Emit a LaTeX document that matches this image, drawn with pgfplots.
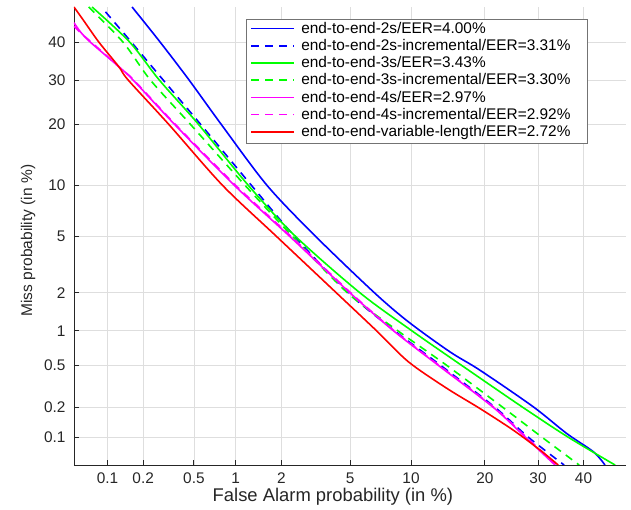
\documentclass[border=0pt]{standalone}
\usepackage{pgfplots}
\pgfplotsset{compat=1.18}
\usepackage{fontspec}
\setmainfont{Liberation Sans}
\definecolor{gridc}{RGB}{222,222,222}
\definecolor{axc}{RGB}{38,38,38}
\definecolor{mblue}{RGB}{0,0,255}
\definecolor{mgreen}{RGB}{0,255,0}
\definecolor{mmag}{RGB}{255,0,255}
\definecolor{mred}{RGB}{255,0,0}
\newcommand{\lsolid}[1]{\textcolor{#1}{\rule[4pt]{43pt}{1.6pt}}}
\newcommand{\ldash}[1]{\textcolor{#1}{\rule[4pt]{8pt}{1.6pt}\hspace{6pt}\rule[4pt]{8pt}{1.6pt}\hspace{6pt}\rule[4pt]{8pt}{1.6pt}\hspace{6pt}\rule[4pt]{1pt}{1.6pt}}}
\begin{document}
\begin{tikzpicture}
\begin{axis}[
  scale only axis, width=552pt, height=458pt,
  declare function={
    pdt(\q)=sqrt(-2*ln(\q));
    pdz(\q)=pdt(\q)-(2.515517+0.802853*pdt(\q)+0.010328*pdt(\q)^2)/(1+1.432788*pdt(\q)+0.189269*pdt(\q)^2+0.001308*pdt(\q)^3);
    probit(\p)=(\p<50)*(-pdz(\p/100))+(\p>=50)*pdz(1-\p/100);
  },
  xmin=-3.2905, xmax=0, ymin=-3.2905, ymax=0,
  axis x line*=bottom, axis y line*=left,
  axis line style={axc, line width=0.8pt},
  xtick={-3.0902,-2.8782,-2.5758,-2.3263,-2.0537,-1.6449,-1.2816,-0.8416,-0.5244,-0.2533},
  xticklabels={0.1,0.2,0.5,1,2,5,10,20,30,40},
  ytick={-3.0902,-2.8782,-2.5758,-2.3263,-2.0537,-1.6449,-1.2816,-0.8416,-0.5244,-0.2533},
  yticklabels={0.1,0.2,0.5,1,2,5,10,20,30,40},
  grid=major, major grid style={gridc, line width=0.7pt},
  tick align=inside, major tick length=5pt, tick style={axc, line width=0.8pt},
  /pgf/number format/assume math mode=true,
  xticklabel style={font=\fontsize{15.4}{17}\selectfont, text=axc, yshift=-4pt},
  yticklabel style={font=\fontsize{15.4}{17}\selectfont, text=axc, xshift=-5pt},
  xlabel={False Alarm probability (in \%)},
  ylabel={Miss probability (in \%)},
  xlabel style={at={(axis description cs:0.469,-0.07)}, anchor=center, font=\fontsize{18.4}{20}\selectfont, text=axc},
  ylabel style={at={(axis description cs:-0.083,0.49)}, anchor=center, font=\fontsize{15.5}{18}\selectfont, text=axc},
  every axis plot post/.append style={line width=1.6pt},
]
% end-to-end-2s
\addplot[mblue, solid, smooth, tension=0.5] table[x expr={probit(\thisrow{fa})}, y expr={probit(\thisrow{miss})}] {
fa miss
0.162 50
0.275 40
0.46 30
0.79 20
1.62 10
3.2 5
6.7 2
9.74 1.185
14.7 0.662
19.2 0.454
29 0.204
36.2 0.109
42.3 0.0697
45 0.05
};
% end-to-end-2s-incremental
\addplot[mblue, dash pattern=on 8pt off 6pt, smooth, tension=0.5] table[x expr={probit(\thisrow{fa})}, y expr={probit(\thisrow{miss})}] {
fa miss
0.096 48.6
0.16 40
0.29 30
0.56 20
1.28 10
2.4 5
4.9 2
8.4 1
13.5 0.5
21.8 0.2
28 0.1
35.6 0.05
};
% end-to-end-3s
\addplot[mgreen, solid, smooth, tension=0.5] table[x expr={probit(\thisrow{fa})}, y expr={probit(\thisrow{miss})}] {
fa miss
0.073 50
0.155 40
0.27 30
0.54 20
1.22 10
2.43 5
5.65 2
10.1 1
16.4 0.5
27 0.2
36.5 0.1
47.4 0.05
};
% end-to-end-3s-incremental
\addplot[mgreen, dash pattern=on 8pt off 6pt, smooth, tension=0.5] table[x expr={probit(\thisrow{fa})}, y expr={probit(\thisrow{miss})}] {
fa miss
0.068 50
0.136 40
0.229 30
0.47 20
1.16 10
2.33 5
4.85 2
8.7 1
14.3 0.5
23.2 0.2
30.8 0.1
39 0.05
};
% end-to-end-4s
\addplot[mmag, solid, smooth, tension=0.5] table[x expr={probit(\thisrow{fa})}, y expr={probit(\thisrow{miss})}] {
fa miss
0.05 45.5
0.0573 42.9
0.0705 40
0.125 33.4
0.165 30
0.355 20
0.98 10
2.24 5
5.0 2
8.3 1
13.2 0.5
21.5 0.2
27.4 0.1
33.6 0.05
};
% end-to-end-4s-incremental
\addplot[mmag, dash pattern=on 8pt off 6pt, smooth, tension=0.5] table[x expr={probit(\thisrow{fa})}, y expr={probit(\thisrow{miss})}] {
fa miss
0.05 44.5
0.058 42.5
0.072 40
0.127 33.2
0.167 30
0.36 20
1.0 10
2.28 5
5.05 2
8.35 1
13.3 0.5
21.6 0.2
27.6 0.1
34.0 0.05
};
% end-to-end-variable-length
\addplot[mred, solid, smooth, tension=0.5] table[x expr={probit(\thisrow{fa})}, y expr={probit(\thisrow{miss})}] {
fa miss
0.05 50
0.061 46.2
0.084 40
0.125 33.4
0.15 30
0.32 20
0.81 10
1.85 5
4.22 2
6.86 1
9.74 0.54
14.3 0.307
19.2 0.196
25.1 0.118
30.4 0.073
34.3 0.05
};
% legend
\node[draw=black!55, line width=0.8pt, fill=white, anchor=north east, inner xsep=5pt, inner ysep=2pt,
      font=\fontsize{15.4}{17.2}\selectfont] at (axis description cs:0.931,0.974) {%
\begin{tabular}{@{}l@{\hspace{7pt}}l@{\hspace{12pt}}}
\lsolid{mblue} & end-to-end-2s/EER=4.00\% \\
\ldash{mblue} & end-to-end-2s-incremental/EER=3.31\% \\
\lsolid{mgreen} & end-to-end-3s/EER=3.43\% \\
\ldash{mgreen} & end-to-end-3s-incremental/EER=3.30\% \\
\lsolid{mmag} & end-to-end-4s/EER=2.97\% \\
\ldash{mmag} & end-to-end-4s-incremental/EER=2.92\% \\
\lsolid{mred} & end-to-end-variable-length/EER=2.72\%
\end{tabular}};
\end{axis}
\pgfresetboundingbox
\path ([xshift=-74pt,yshift=-45pt]current axis.south west) rectangle ([xshift=5pt,yshift=7pt]current axis.north east);
\end{tikzpicture}
\end{document}
